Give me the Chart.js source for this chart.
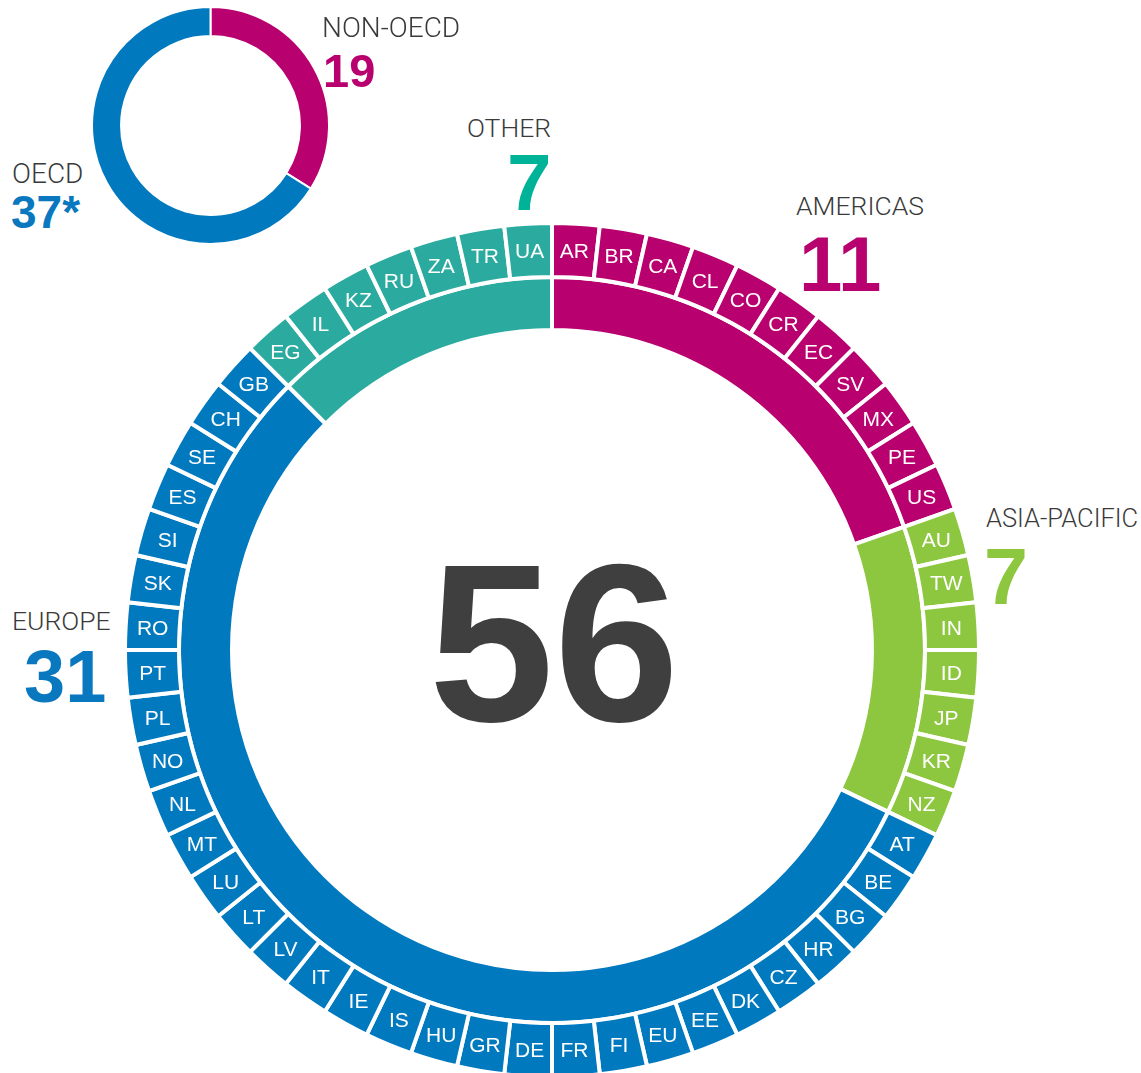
<!DOCTYPE html>
<html>
<head>
<meta charset="utf-8">
<script src="https://cdn.jsdelivr.net/npm/chart.js@4.4.1/dist/chart.umd.min.js"></script>
<style>
  html, body { margin: 0; padding: 0; background: #fff; overflow: hidden; }
  body { width: 1141px; height: 1073px; position: relative; }
  canvas { position: absolute; }
  #mainChart { left: 123px; top: 221px; }
  #oecdChart { left: 91px; top: 6px; }
  .cap, .num { position: absolute; line-height: 1; white-space: nowrap; }
  .cap { font-family: Roboto, "Liberation Sans", Arial, sans-serif; font-weight: 300; font-size: 26.5px; color: #3a3a3a; }
  .num { font-family: "Liberation Sans", Arial, sans-serif; font-weight: bold; }
</style>
</head>
<body>
<canvas id="oecdChart" width="239" height="239"></canvas>
<canvas id="mainChart" width="858" height="858"></canvas>

<div class="cap" style="left:322px; top:14px; font-size:28px;">NON-OECD</div>
<div class="num" style="left:323px; top:47px; font-size:47px; color:#b8006e;">19</div>
<div class="cap" style="left:12px; top:160px; font-size:28px;">OECD</div>
<div class="num" style="left:11px; top:189px; font-size:46px; color:#0a78be;">37*</div>

<div class="cap" style="left:467px; top:115px;">OTHER</div>
<div class="num" style="left:507px; top:143px; font-size:80px; color:#00b398;">7</div>
<div class="cap" style="left:796px; top:193px;">AMERICAS</div>
<div class="num" style="left:799px; top:225px; font-size:78px; color:#b8006e;">11</div>
<div class="cap" style="left:986px; top:506px; font-size:25.5px;">ASIA-PACIFIC</div>
<div class="num" style="left:984px; top:537px; font-size:79px; color:#8dc63f;">7</div>
<div class="cap" style="left:12px; top:608px;">EUROPE</div>
<div class="num" style="left:24px; top:640px; font-size:74px; color:#0a78be;">31</div>

<script>
// pays (anneau extérieur), dans le sens horaire depuis le haut
const countryCodes = ['AR','BR','CA','CL','CO','CR','EC','SV','MX','PE','US',
  'AU','TW','IN','ID','JP','KR','NZ',
  'AT','BE','BG','HR','CZ','DK','EE','EU','FI','FR','DE','GR','HU','IS','IE','IT',
  'LV','LT','LU','MT','NL','NO','PL','PT','RO','SK','SI','ES','SE','CH','GB',
  'EG','IL','KZ','RU','ZA','TR','UA'];
const countryWeights = [1,1,1,1,1,1,1,1,1,1,1, 1,1,1,1,1,1,1,
  1,1,1,1,1,1,1,1,1,1,1,1,1,1,1,1,1,1,1,1,1,1,1,1,1,1,1,1,1,1,1,
  1,1,1,1,1,1,1];

// régions (anneau intérieur)
const regionNames = ['AMERICAS', 'ASIA-PACIFIC', 'EUROPE', 'OTHER'];
const regionCounts = [11, 7, 31, 7];
const regionColors = ['#b8006e', '#8dc63f', '#0079bf', '#2bab9f'];

// petit anneau OCDE
const oecdLabels = ['NON-OECD', 'OECD'];
const oecdCounts = [19, 37];
const oecdColors = ['#b8006e', '#0079bf'];

const totalLabel = '56';

// couleur de chaque pays selon sa région
const countryColors = [];
regionCounts.forEach((n, r) => {
  for (let i = 0; i < n; i++) countryColors.push(regionColors[r]);
});

const labelFont = "21px 'Helvetica Neue', 'Liberation Sans', Arial, sans-serif";

const ringLabels = {
  id: 'ringLabels',
  afterDatasetsDraw(chart) {
    const ctx = chart.ctx;
    const meta = chart.getDatasetMeta(0);
    ctx.save();
    ctx.font = labelFont;
    ctx.fillStyle = '#fff';
    ctx.textAlign = 'center';
    ctx.textBaseline = 'alphabetic';
    meta.data.forEach((arc, i) => {
      const p = arc.getCenterPoint();
      ctx.fillText(countryCodes[i], p.x, p.y + 7.5);
    });
    // total au centre
    const a = chart.chartArea;
    const cx = (a.left + a.right) / 2;
    const cy = (a.top + a.bottom) / 2;
    ctx.font = "bold 225px 'Liberation Sans', Arial, sans-serif";
    ctx.fillStyle = '#3f3f3f';
    ctx.fillText(totalLabel, cx + 2, cy + 71);
    ctx.restore();
  }
};

new Chart(document.getElementById('mainChart'), {
  type: 'doughnut',
  data: {
    labels: countryCodes,
    datasets: [
      {
        data: countryWeights,
        backgroundColor: countryColors,
        borderColor: '#fff',
        borderWidth: 4,
        weight: 54,
        hoverOffset: 0,
        offset: 0
      },
      {
        data: regionCounts,
        backgroundColor: regionColors,
        borderColor: '#fff',
        borderWidth: 4,
        weight: 53,
        hoverOffset: 0,
        offset: 0
      }
    ]
  },
  options: {
    responsive: false,
    animation: false,
    events: [],
    cutout: '74.94%',
    plugins: { legend: { display: false }, tooltip: { enabled: false } }
  },
  plugins: [ringLabels]
});

new Chart(document.getElementById('oecdChart'), {
  type: 'doughnut',
  data: {
    labels: oecdLabels,
    datasets: [{
      data: oecdCounts,
      backgroundColor: oecdColors,
      borderColor: '#fff',
      borderWidth: 2,
      hoverOffset: 0,
      offset: 0
    }]
  },
  options: {
    responsive: false,
    animation: false,
    events: [],
    cutout: '75.5%',
    plugins: { legend: { display: false }, tooltip: { enabled: false } }
  }
});
</script>
</body>
</html>
